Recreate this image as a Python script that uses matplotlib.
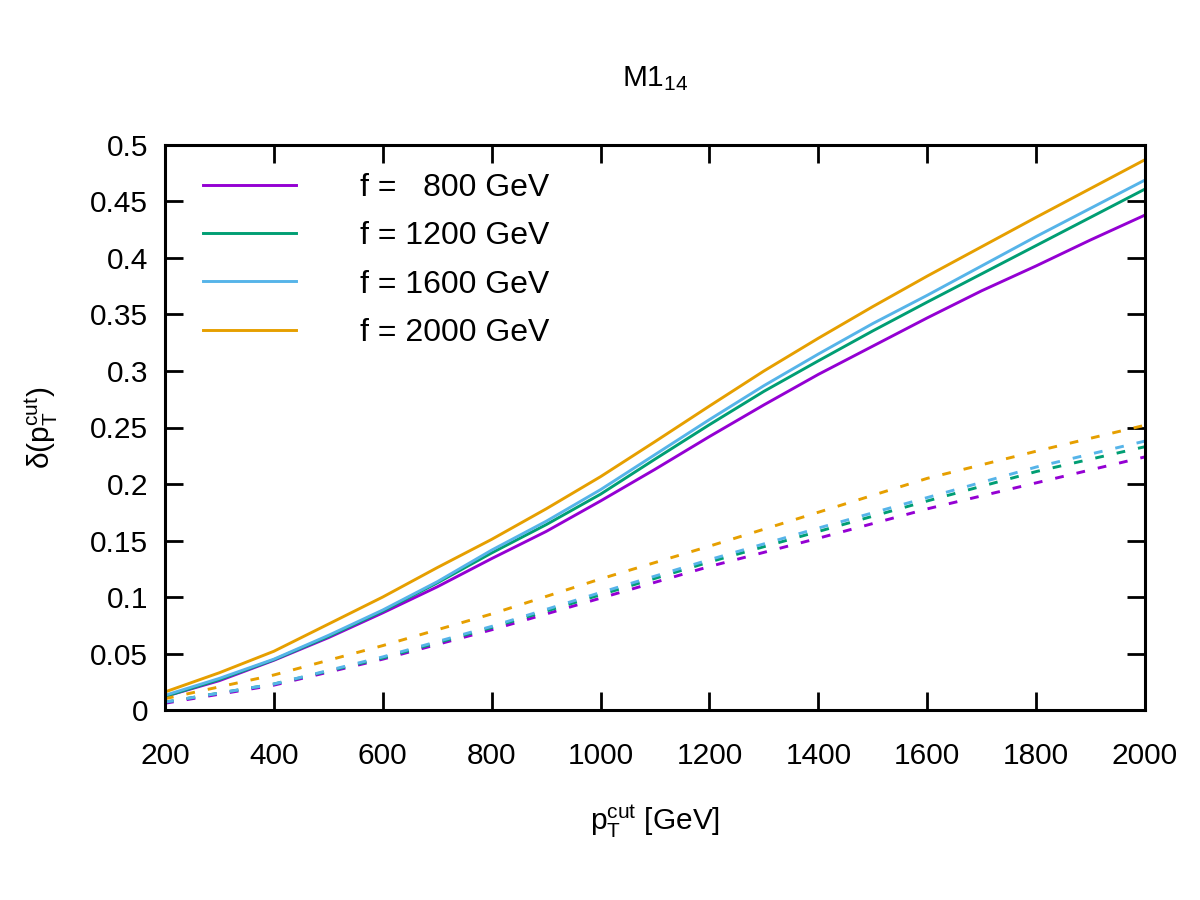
import matplotlib
matplotlib.use("Agg")
import matplotlib.pyplot as plt

plt.rcParams['font.family'] = ['Liberation Sans', 'DejaVu Sans']
plt.rcParams['mathtext.fontset'] = 'custom'
plt.rcParams['mathtext.rm'] = 'Liberation Sans'
plt.rcParams['mathtext.it'] = 'Liberation Sans'

# values
pt_solid = [200, 300, 400, 500, 600, 700, 800, 900, 1000, 1100,
            1200, 1300, 1400, 1500, 1600, 1700, 1800, 1900, 2000]
f_labels = ["f =   800 GeV", "f = 1200 GeV", "f = 1600 GeV", "f = 2000 GeV"]
colors = ['#9400d3', '#009e73', '#56b4e9', '#e69f00']

solid_800 = [0.012, 0.026, 0.044, 0.064, 0.086, 0.109, 0.134, 0.158, 0.185, 0.213,
             0.242, 0.270, 0.297, 0.322, 0.347, 0.371, 0.393, 0.416, 0.438]
solid_1200 = [0.012, 0.027, 0.0445, 0.065, 0.0875, 0.1125, 0.139, 0.164, 0.191, 0.222,
              0.2525, 0.282, 0.309, 0.3355, 0.361, 0.386, 0.411, 0.436, 0.461]
solid_1600 = [0.013, 0.028, 0.045, 0.066, 0.0885, 0.1135, 0.1415, 0.167, 0.195, 0.226,
              0.257, 0.287, 0.315, 0.342, 0.367, 0.393, 0.419, 0.444, 0.469]
solid_2000 = [0.016, 0.033, 0.052, 0.076, 0.100, 0.126, 0.151, 0.178, 0.2065, 0.2375,
              0.269, 0.300, 0.329, 0.357, 0.384, 0.410, 0.436, 0.4615, 0.487]

pt_dash = [200, 400, 600, 800, 1000, 1200, 1400, 1600, 1800, 2000]
dash_800 = [0.006, 0.022, 0.045, 0.071, 0.099, 0.127, 0.152, 0.178, 0.201, 0.224]
dash_1200 = [0.007, 0.023, 0.046, 0.073, 0.102, 0.131, 0.158, 0.185, 0.211, 0.233]
dash_1600 = [0.007, 0.023, 0.047, 0.074, 0.104, 0.133, 0.161, 0.188, 0.215, 0.238]
dash_2000 = [0.010, 0.031, 0.057, 0.085, 0.116, 0.145, 0.175, 0.205, 0.229, 0.252]

solid = [solid_800, solid_1200, solid_1600, solid_2000]
dashed = [dash_800, dash_1200, dash_1600, dash_2000]

fs = 21.5

fig = plt.figure(figsize=(12, 9), dpi=100)
ax = fig.add_axes([0.1375, 0.2111, 0.8167, 0.6278])

for ys, c, lab in zip(solid, colors, f_labels):
    ax.plot(pt_solid, ys, color=c, lw=2.1, label=lab)
for ys, c in zip(dashed, colors):
    ax.plot(pt_dash, ys, color=c, lw=2.1, linestyle=(0, (3, 4.5)))

ax.set_xlim(200, 2000)
ax.set_ylim(0, 0.5)
ax.set_xticks(range(200, 2001, 200))
ax.set_yticks([0, 0.05, 0.1, 0.15, 0.2, 0.25, 0.3, 0.35, 0.4, 0.45, 0.5])
ax.set_yticklabels(['0', '0.05', '0.1', '0.15', '0.2', '0.25', '0.3', '0.35', '0.4', '0.45', '0.5'])
ax.tick_params(direction='in', length=13, width=2, labelsize=fs, top=True, right=True)
ax.tick_params(axis='x', pad=23)
ax.tick_params(axis='y', pad=12)
for s in ax.spines.values():
    s.set_linewidth(2.2)

ax.set_xlabel(r'p$_\mathrm{T}^\mathrm{cut}$ [GeV]', fontsize=fs, labelpad=24)
ax.set_ylabel(r'δ(p$_\mathrm{T}^\mathrm{cut}$)', fontsize=fs, labelpad=22)
ax.set_title(r'M1$_{14}$', fontsize=fs, pad=42)

ax.legend(loc='upper left', bbox_to_anchor=(0.0388, 0.95), frameon=False, fontsize=23,
          handlelength=2.9, handletextpad=2.0, labelspacing=0.57, borderpad=0,
          borderaxespad=0)

fig.savefig('out.png', dpi=100)
